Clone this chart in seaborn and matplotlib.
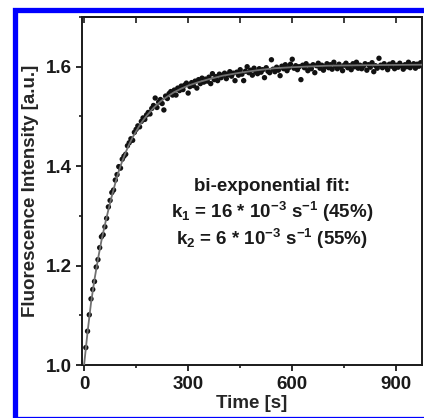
import matplotlib
matplotlib.use("Agg")
import matplotlib.pyplot as plt
import pandas as pd
import seaborn as sns
from matplotlib.patches import Rectangle
from matplotlib.ticker import MultipleLocator

# Measured fluorescence trace, one reading every 5 s
time_s = list(range(5, 975, 5))
intensity = [
    1.035, 1.068, 1.101, 1.133, 1.152, 1.168, 1.197, 1.212, 1.236, 1.258,
    1.262, 1.278, 1.295, 1.318, 1.331, 1.347, 1.352, 1.372, 1.383, 1.399,
    1.396, 1.414, 1.420, 1.424, 1.441, 1.447, 1.455, 1.452, 1.468, 1.474,
    1.481, 1.479, 1.490, 1.497, 1.494, 1.503, 1.508, 1.505, 1.516, 1.522,
    1.537, 1.518, 1.529, 1.534, 1.526, 1.513, 1.541, 1.536, 1.546, 1.550,
    1.543, 1.553, 1.543, 1.557, 1.552, 1.561, 1.554, 1.563, 1.567, 1.547,
    1.560, 1.568, 1.562, 1.571, 1.557, 1.574, 1.566, 1.577, 1.569, 1.575,
    1.571, 1.579, 1.566, 1.586, 1.574, 1.580, 1.572, 1.585, 1.578, 1.583,
    1.587, 1.576, 1.584, 1.590, 1.581, 1.587, 1.572, 1.589, 1.583, 1.594,
    1.585, 1.572, 1.591, 1.600, 1.588, 1.593, 1.583, 1.597, 1.590, 1.586,
    1.596, 1.589, 1.594, 1.578, 1.598, 1.591, 1.588, 1.614, 1.595, 1.590,
    1.599, 1.593, 1.582, 1.601, 1.596, 1.604, 1.592, 1.598, 1.605, 1.615,
    1.597, 1.602, 1.594, 1.600, 1.574, 1.603, 1.598, 1.606, 1.592, 1.601,
    1.596, 1.604, 1.588, 1.602, 1.607, 1.597, 1.603, 1.593, 1.600, 1.606,
    1.598, 1.604, 1.595, 1.609, 1.601, 1.596, 1.605, 1.599, 1.592, 1.603,
    1.607, 1.598, 1.602, 1.594, 1.606, 1.600, 1.609, 1.597, 1.603, 1.596,
    1.601, 1.606, 1.593, 1.604, 1.599, 1.608, 1.590, 1.602, 1.597, 1.617,
    1.603, 1.598, 1.606, 1.600, 1.594, 1.605, 1.601, 1.608, 1.596, 1.603,
    1.599, 1.607, 1.602, 1.595, 1.604, 1.600, 1.609, 1.598, 1.603, 1.606,
    1.597, 1.605, 1.601, 1.608,
]

# Bi-exponential fit curve
fit_time = [0, 10, 20, 30, 40, 50, 60, 70, 80, 90, 100, 110, 120, 130, 140,
            150, 160, 170, 180, 190, 200, 220, 240, 260, 280, 300, 330, 360,
            400, 450, 500, 550, 600, 700, 800, 975]
fit_intensity = [1.000, 1.066, 1.125, 1.172, 1.213, 1.250, 1.282, 1.312, 1.340,
                 1.366, 1.390, 1.410, 1.428, 1.444, 1.458, 1.470, 1.482, 1.492,
                 1.501, 1.509, 1.517, 1.530, 1.540, 1.549, 1.556, 1.562, 1.569,
                 1.575, 1.582, 1.588, 1.593, 1.597, 1.599, 1.602, 1.603, 1.604]

x_ticks = [0, 300, 600, 900]
y_ticks = [1.0, 1.2, 1.4, 1.6]

fit_lines = [
    "bi-exponential fit:",
    r"k$_1$ = 16 * 10$^{-3}$ s$^{-1}$ (45%)",
    r"k$_2$ = 6 * 10$^{-3}$ s$^{-1}$ (55%)",
]

sns.set_style("ticks")
plt.rcParams["font.family"] = ["Liberation Sans", "DejaVu Sans"]
plt.rcParams["font.weight"] = "bold"
plt.rcParams["mathtext.fontset"] = "custom"
plt.rcParams["mathtext.rm"] = "Liberation Sans:bold"
plt.rcParams["mathtext.bf"] = "Liberation Sans:bold"
plt.rcParams["mathtext.default"] = "bf"

W, H = 424, 418
fig = plt.figure(figsize=(W / 100, H / 100), dpi=100)
fig.patch.set_facecolor("white")
ax = fig.add_axes([82 / W, 1 - 365 / H, (422 - 82) / W, (365 - 17) / H])

data = pd.DataFrame({"t": time_s, "I": intensity})
fit = pd.DataFrame({"t": fit_time, "I": fit_intensity})

sns.scatterplot(data=data, x="t", y="I", ax=ax, s=15, color="#111111",
                edgecolor="none", zorder=2)
sns.lineplot(data=fit, x="t", y="I", ax=ax, color="#707070", lw=1.3,
             zorder=3, sort=False)

ax.set_xlim(-6, 974)
ax.set_ylim(1.0, 1.70)
ax.set_xticks(x_ticks)
ax.set_yticks(y_ticks)
ax.xaxis.set_minor_locator(MultipleLocator(150))
ax.yaxis.set_minor_locator(MultipleLocator(0.1))
ax.set_xticklabels([str(v) for v in x_ticks])
ax.set_yticklabels([f"{v:.1f}" for v in y_ticks])

for s in ax.spines.values():
    s.set_linewidth(1.4)
    s.set_color("#1a1a1a")

ax.tick_params(axis="both", which="major", direction="out", length=4,
               width=1.3, labelsize=13.5, color="#1a1a1a", labelcolor="#1a1a1a")
ax.tick_params(axis="both", which="minor", direction="out", length=2.5,
               width=1.2, color="#1a1a1a")
ax.tick_params(axis="x", which="major", pad=4)
ax.tick_params(axis="y", which="major", pad=3)

top = ax.secondary_xaxis("top")
top.set_xticks(x_ticks)
top.xaxis.set_minor_locator(MultipleLocator(150))
top.tick_params(axis="x", which="both", direction="in", length=4, width=1.2,
                labeltop=False, color="#1a1a1a")
top.spines["top"].set_linewidth(1.4)

ax.set_xlabel("Time [s]", fontsize=13.5, fontweight="bold", labelpad=1)
ax.set_ylabel("Fluorescence Intensity [a.u.]", fontsize=13.5,
              fontweight="bold", labelpad=5)

for txt, yv in zip(fit_lines, [1.350, 1.296, 1.241]):
    ax.text(542, yv, txt, ha="center", va="baseline", fontsize=13.5,
            fontweight="bold", color="#1a1a1a")

# Blue frame around the panel
frame = Rectangle((14.5 / W, -0.5 / H), (427 - 14.5) / W, (408.5) / H,
                  transform=fig.transFigure, fill=False, edgecolor="#0000ff",
                  linewidth=3.8, clip_on=False)
fig.add_artist(frame)

fig.savefig("out.png", dpi=100)
